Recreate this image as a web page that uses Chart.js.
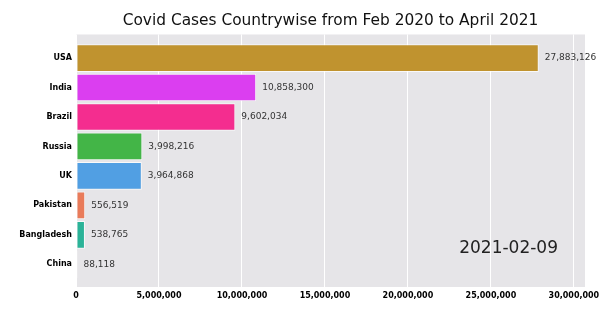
<!DOCTYPE html>
<html>
<head>
<meta charset="utf-8">
<script src="https://cdn.jsdelivr.net/npm/chart.js@4"></script>
<style>
  body { margin: 0; background: #fff; }
</style>
</head>
<body>
<canvas id="myChart" width="600" height="324"></canvas>
<script>
const countries = ['USA', 'India', 'Brazil', 'Russia', 'UK', 'Pakistan', 'Bangladesh', 'China'];
const cases = [27883126, 10858300, 9602034, 3998216, 3964868, 556519, 538765, 88118];
const barColors = ['#c0932f', '#db3ef0', '#f42d8f', '#43b547', '#519fe3', '#e97b5a', '#2bb398', '#f3dede'];
const xTicks = [0, 5000000, 10000000, 15000000, 20000000, 25000000, 30000000];
const dateLabel = '2021-02-09';

const fmt = v => v.toLocaleString('en-US');

// gray panel behind the bars
const panelBg = {
  id: 'panelBg',
  beforeDraw(chart) {
    const { ctx, chartArea: a } = chart;
    ctx.save();
    ctx.fillStyle = '#e6e5e8';
    ctx.fillRect(a.left, a.top, a.right - a.left, a.bottom - a.top);
    ctx.restore();
  }
};

// numbers at the end of each bar + current date
const barText = {
  id: 'barText',
  afterDatasetsDraw(chart) {
    const { ctx } = chart;
    const bars = chart.getDatasetMeta(0).data;
    ctx.save();
    ctx.font = '9px "DejaVu Sans"';
    ctx.fillStyle = '#333';
    ctx.textBaseline = 'middle';
    ctx.textAlign = 'left';
    bars.forEach((bar, i) => {
      ctx.fillText(fmt(cases[i]), bar.x + 6, bar.y);
    });
    ctx.font = '17px "DejaVu Sans"';
    ctx.fillStyle = '#222';
    ctx.textAlign = 'right';
    ctx.fillText(dateLabel, 558, 249);
    ctx.restore();
  }
};

new Chart(document.getElementById('myChart'), {
  type: 'bar',
  data: {
    datasets: [{
      data: cases.map((v, i) => ({ x: v, y: i })),
      backgroundColor: barColors,
      borderColor: 'rgba(255,255,255,0.75)',
      borderWidth: 1,
      borderSkipped: false,
      categoryPercentage: 1,
      barPercentage: 0.94
    }]
  },
  options: {
    indexAxis: 'y',
    responsive: false,
    animation: false,
    devicePixelRatio: 1,
    layout: { padding: { right: 15, left: 0, bottom: 0 } },
    plugins: {
      legend: { display: false },
      tooltip: { enabled: false },
      title: {
        display: true,
        fullSize: false,
        text: 'Covid Cases Countrywise from Feb 2020 to April 2021',
        color: '#111',
        font: { family: 'DejaVu Sans', size: 15.4, weight: 'normal' },
        padding: { top: 11.5, bottom: 4.5 }
      }
    },
    scales: {
      x: {
        type: 'linear',
        min: 0,
        max: 30670000,
        afterBuildTicks: s => { s.ticks = xTicks.map(v => ({ value: v })); },
        afterFit: s => {
          s.height = 37;
          // tick labels may hang past the panel edge
          s.paddingLeft = 0;
          s.paddingRight = 0;
        },
        grid: { color: '#ffffff', lineWidth: 1, drawTicks: false },
        border: { display: false },
        ticks: {
          padding: 4,
          color: '#000',
          font: { family: 'DejaVu Sans', size: 8, weight: 'bold' },
          callback: v => fmt(v),
          maxRotation: 0
        }
      },
      y: {
        type: 'linear',
        offset: false,
        reverse: true,
        min: -0.8,
        max: 7.77,
        afterBuildTicks: s => { s.ticks = countries.map((c, i) => ({ value: i })); },
        afterFit: s => { s.width = 76; },
        grid: { display: false, drawTicks: false, offset: false },
        border: { display: false },
        ticks: {
          padding: 4,
          color: '#000',
          font: { family: 'DejaVu Sans', size: 8, weight: 'bold' },
          callback: v => countries[v]
        }
      }
    }
  },
  plugins: [panelBg, barText]
});
</script>
</body>
</html>
